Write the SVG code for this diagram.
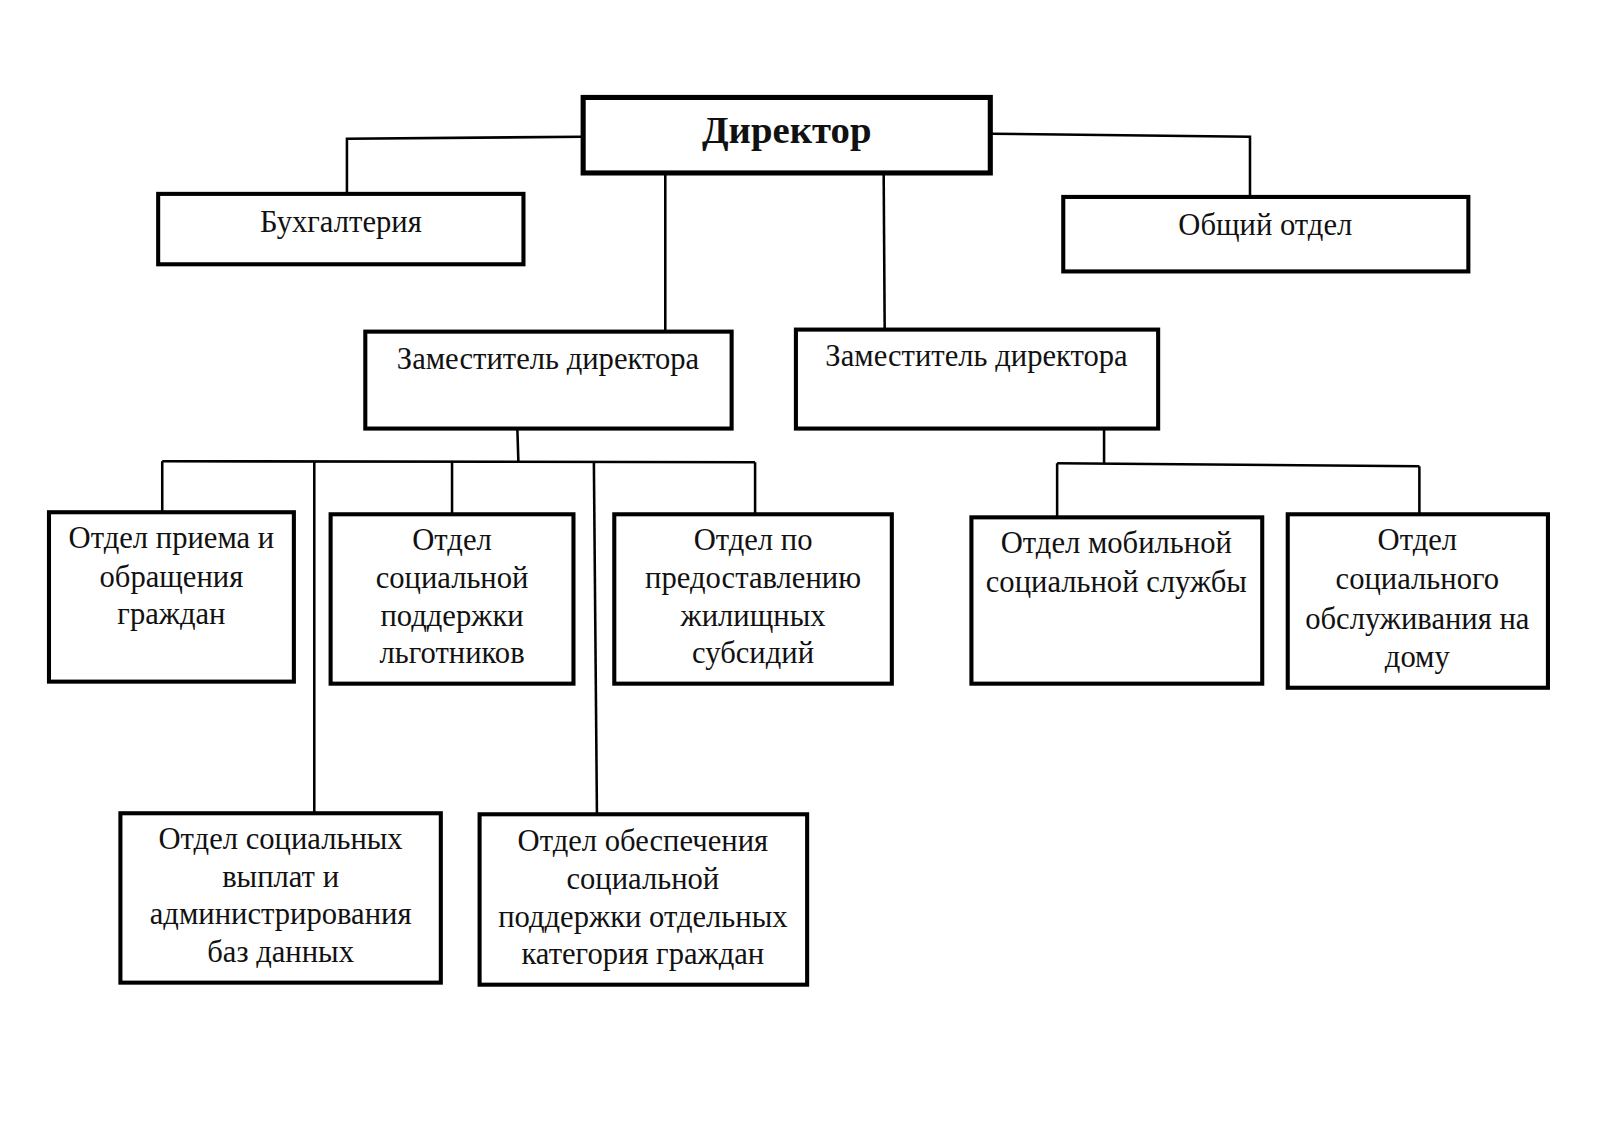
<svg xmlns="http://www.w3.org/2000/svg" width="1600" height="1131" viewBox="0 0 1600 1131">
<style>
.box{fill:#fff;stroke:#000;stroke-width:4}
.main{fill:#fff;stroke:#000;stroke-width:5}
.t{font-family:"Liberation Serif","Times New Roman",serif;font-size:30px;fill:#111;text-anchor:middle}
.tb{font-family:"Liberation Serif","Times New Roman",serif;font-size:38px;font-weight:bold;fill:#111;text-anchor:middle}
.c{fill:none;stroke:#000;stroke-width:2.5}
</style>
<rect width="1600" height="1131" fill="#fff"/>
<g transform="scale(1.0204)">
<g id="connectors">
<polyline class="c" points="570,134 340,136 340,190"/>
<polyline class="c" points="972,131 1225,134 1225,193"/>
<line class="c" x1="652" y1="170" x2="652" y2="325"/>
<line class="c" x1="866" y1="170" x2="867" y2="323"/>
<line class="c" x1="507" y1="420" x2="508" y2="452"/>
<line class="c" x1="159" y1="452" x2="740" y2="453"/>
<line class="c" x1="159" y1="452" x2="159" y2="502"/>
<line class="c" x1="308" y1="452" x2="308" y2="797"/>
<line class="c" x1="443" y1="452" x2="443" y2="504"/>
<line class="c" x1="582" y1="452" x2="585" y2="798"/>
<line class="c" x1="740" y1="453" x2="740" y2="504"/>
<line class="c" x1="1082" y1="420" x2="1082" y2="455"/>
<line class="c" x1="1036" y1="454" x2="1391" y2="457"/>
<line class="c" x1="1036" y1="454" x2="1036" y2="507"/>
<line class="c" x1="1391" y1="457" x2="1391" y2="504"/>
</g>
<g id="director">
<rect class="main" x="571.5" y="95.5" width="399" height="74"/>
<text class="tb" x="771" y="140">Директор</text>
</g>
<g id="accounting">
<rect class="box" x="155" y="190" width="358" height="69"/>
<text class="t" x="334" y="227">Бухгалтерия</text>
</g>
<g id="general">
<rect class="box" x="1042" y="193" width="397" height="73"/>
<text class="t" x="1240" y="230">Общий отдел</text>
</g>
<g id="deputy1">
<rect class="box" x="358" y="325" width="359" height="95"/>
<text class="t" x="537" y="362">Заместитель директора</text>
</g>
<g id="deputy2">
<rect class="box" x="780" y="323" width="355" height="97"/>
<text class="t" x="957" y="359">Заместитель директора</text>
</g>
<g id="dept-reception">
<rect class="box" x="48" y="502" width="240" height="166"/>
<text class="t" x="168"><tspan x="168" y="537">Отдел приема и</tspan><tspan x="168" y="575">обращения</tspan><tspan x="168" y="612">граждан</tspan></text>
</g>
<g id="dept-benefits">
<rect class="box" x="324" y="504" width="238" height="166"/>
<text class="t" x="443"><tspan x="443" y="539">Отдел</tspan><tspan x="443" y="576">социальной</tspan><tspan x="443" y="613">поддержки</tspan><tspan x="443" y="650">льготников</tspan></text>
</g>
<g id="dept-subsidies">
<rect class="box" x="602" y="504" width="272" height="166"/>
<text class="t" x="738"><tspan x="738" y="539">Отдел по</tspan><tspan x="738" y="576">предоставлению</tspan><tspan x="738" y="613">жилищных</tspan><tspan x="738" y="650">субсидий</tspan></text>
</g>
<g id="dept-mobile">
<rect class="box" x="952" y="507" width="285" height="163"/>
<text class="t" x="1094"><tspan x="1094" y="542">Отдел мобильной</tspan><tspan x="1094" y="580">социальной службы</tspan></text>
</g>
<g id="dept-home">
<rect class="box" x="1262" y="504" width="255" height="170"/>
<text class="t" x="1389"><tspan x="1389" y="539">Отдел</tspan><tspan x="1389" y="577">социального</tspan><tspan x="1389" y="616">обслуживания на</tspan><tspan x="1389" y="654">дому</tspan></text>
</g>
<g id="dept-payments">
<rect class="box" x="118" y="797" width="314" height="166"/>
<text class="t" x="275"><tspan x="275" y="832">Отдел социальных</tspan><tspan x="275" y="869">выплат и</tspan><tspan x="275" y="906">администрирования</tspan><tspan x="275" y="943">баз данных</tspan></text>
</g>
<g id="dept-categories">
<rect class="box" x="470" y="798" width="321" height="167"/>
<text class="t" x="630"><tspan x="630" y="834">Отдел обеспечения</tspan><tspan x="630" y="871">социальной</tspan><tspan x="630" y="908">поддержки отдельных</tspan><tspan x="630" y="945">категория граждан</tspan></text>
</g>
</g>
</svg>
